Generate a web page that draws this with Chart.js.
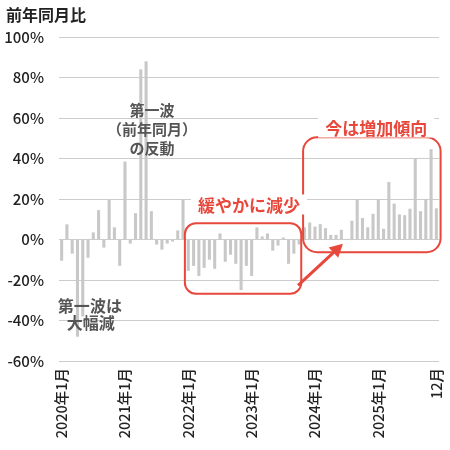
<!DOCTYPE html>
<html><head><meta charset="utf-8">
<script src="https://cdn.jsdelivr.net/npm/chart.js@4"></script>
<style>html,body{margin:0;padding:0;background:#fff}#wrap{width:450px;height:450px;position:relative}</style>
</head><body><div id="wrap"><canvas id="c" width="450" height="450"></canvas></div>
<script>
// ---- data (前年同月比, %) ----
const years = [2020, 2021, 2022, 2023, 2024, 2025];
const months = [1,2,3,4,5,6,7,8,9,10,11,12];
const v2020 = [-10.5, 7.5, -7, -48, -38, -9, 3.5, 14.5, -4, 19.5, 6, -13];
const v2021 = [38.5, -2, 13, 84, 88, 14, -2.5, -5, -2, -1, 4.5, 20];
const v2022 = [-15.5, -13, -18, -14, -10, -14.5, 3, -11, -7.5, -12, -25, -13];
const v2023 = [-18, 6, 1.5, 3, -5.5, -3, 1, -12, -7, -2.5, 6, 8.4];
const v2024 = [6.4, 7.6, 5.6, 2.3, 2.3, 4.8, 0.3, 9.3, 20, 10.6, 6, 12.7];
const v2025 = [20, 5.3, 28.4, 17.7, 12.4, 12, 15.2, 40, 14, 20, 44.6, 15.4];
const yTicks = [-60, -40, -20, 0, 20, 40, 60, 80, 100];
const shownTickIndex = [0, 12, 24, 36, 48, 60, 71];
const shownTickText = ['2020年1月', '2021年1月', '2022年1月', '2023年1月', '2024年1月', '2025年1月', '12月'];

const labels = years.flatMap(y => months.map(m => y + '年' + m + '月'));
const values = [].concat(v2020, v2021, v2022, v2023, v2024, v2025);

const JP = "'Noto Sans CJK JP', 'Noto Sans', sans-serif";
const RED = '#e8473b';
const GRAY_TXT = '#555555';

const notes = {
  id: 'notes',
  afterDatasetsDraw(chart) {
    const { ctx, scales: { x, y } } = chart;
    const X = i => x.getPixelForValue(i);
    const Y = v => y.getPixelForValue(v);
    ctx.save();
    // title
    ctx.fillStyle = '#222';
    ctx.font = 'bold 16px ' + JP;
    ctx.textAlign = 'left';
    ctx.textBaseline = 'middle';
    ctx.fillText('前年同月比', 6, 15);

    function redLabel(text, cx, cy) {
      ctx.font = 'bold 17px ' + JP;
      const w = ctx.measureText(text).width;
      ctx.fillStyle = '#fff';
      ctx.fillRect(cx - w / 2 - 7, cy - 11, w + 14, 20);
      ctx.fillStyle = RED;
      ctx.textAlign = 'center';
      ctx.textBaseline = 'middle';
      ctx.fillText(text, cx, cy);
    }
    // boxes
    ctx.strokeStyle = RED;
    ctx.lineWidth = 2;
    ctx.beginPath();
    ctx.roundRect(X(23.35), Y(8), X(45.4) - X(23.35), Y(-26.8) - Y(8), 11);
    ctx.stroke();
    ctx.beginPath();
    ctx.roundRect(X(45.75), Y(50.5), X(71.8) - X(45.75), Y(-6.3) - Y(50.5), 14);
    ctx.stroke();

    redLabel('今は増加傾向', X(59.6), Y(54.8));
    redLabel('緩やかに減少', X(35.5), Y(16.8));

    // arrow
    const sx = X(44.8), sy = Y(-22.7), ex = X(53.3), ey = Y(-2.1);
    const ang = Math.atan2(ey - sy, ex - sx);
    const hl = 13, hw = 7;
    const bx = ex - hl * Math.cos(ang), by = ey - hl * Math.sin(ang);
    ctx.strokeStyle = RED;
    ctx.lineWidth = 3;
    ctx.beginPath();
    ctx.moveTo(sx, sy);
    ctx.lineTo(bx, by);
    ctx.stroke();
    ctx.fillStyle = RED;
    ctx.beginPath();
    ctx.moveTo(ex, ey);
    ctx.lineTo(bx + hw * Math.sin(ang), by - hw * Math.cos(ang));
    ctx.lineTo(bx - hw * Math.sin(ang), by + hw * Math.cos(ang));
    ctx.closePath();
    ctx.fill();

    // gray annotations
    ctx.fillStyle = GRAY_TXT;
    ctx.font = 'bold 15px ' + JP;
    ctx.textAlign = 'center';
    ctx.textBaseline = 'middle';
    ctx.fillText('第一波', X(17.1), Y(63.7));
    ctx.fillText('（前年同月）', X(17.1), Y(54.3));
    ctx.fillText('の反動', X(17.1), Y(45.2));
    ctx.font = 'bold 16px ' + JP;
    ctx.fillText('第一波は', X(5.35), Y(-32.6));
    ctx.fillText('大幅減', X(5.5), Y(-41.3));
    ctx.restore();
  }
};

new Chart(document.getElementById('c'), {
  type: 'bar',
  data: {
    labels: labels,
    datasets: [{
      data: values,
      backgroundColor: '#c8c8c8',
      borderWidth: 0,
      categoryPercentage: 1,
      barPercentage: 0.58
    }]
  },
  options: {
    responsive: false,
    animation: false,
    layout: { padding: { top: 37, right: 11, left: 0, bottom: 0 } },
    plugins: { legend: { display: false }, tooltip: { enabled: false }, title: { display: false } },
    scales: {
      x: {
        grid: { display: false, drawTicks: false },
        border: { display: false },
        ticks: {
          autoSkip: false,
          maxRotation: 90,
          minRotation: 90,
          padding: 7,
          color: '#222',
          font: { family: JP, size: 14.5, weight: '500' },
          callback: (v, i) => {
            const k = shownTickIndex.indexOf(i);
            return k >= 0 ? shownTickText[k] : '';
          }
        },
        afterFit: s => { s.height = 89; s.paddingLeft = 0; s.paddingRight = 0; }
      },
      y: {
        min: yTicks[0],
        max: yTicks[yTicks.length - 1],
        afterBuildTicks: s => { s.ticks = yTicks.map(v => ({ value: v })); },
        grid: { color: '#cccccc', lineWidth: 1, drawTicks: false },
        border: { display: false },
        ticks: {
          padding: 15,
          color: '#222',
          font: { family: JP, size: 15, weight: '500' },
          callback: v => v + '%'
        },
        afterFit: s => { s.width = 59; }
      }
    }
  },
  plugins: [notes]
});
</script>
</body></html>
